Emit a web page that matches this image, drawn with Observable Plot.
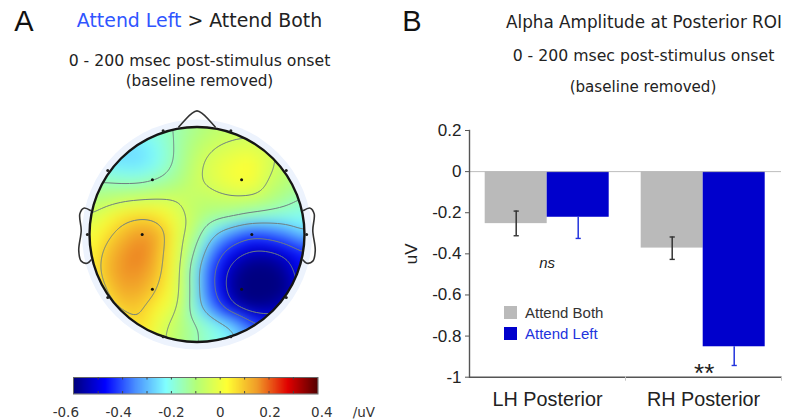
<!DOCTYPE html>
<html><head><meta charset="utf-8">
<script src="https://cdn.jsdelivr.net/npm/d3@7"></script>
<script src="https://cdn.jsdelivr.net/npm/@observablehq/plot@0.6"></script>
<style>
html,body{margin:0;padding:0;background:#fff}
#page{position:relative;width:795px;height:419px;overflow:hidden}
#page svg{position:absolute;left:0;top:0}
.t{position:absolute;white-space:nowrap;line-height:1;transform:translate(-50%,-50%);color:#222}
.l{font-family:"DejaVu Sans",sans-serif}
.h{font-family:"Liberation Sans",Arial,sans-serif}
.sw{position:absolute;width:13px;height:13px}
</style></head><body><div id="page"></div>
<script>
// ---- Panel B data
const regions = ["LH Posterior", "RH Posterior"];
const conditions = ["Attend Both", "Attend Left"];
const attendBoth = [-0.253, -0.372];
const attendLeft = [-0.222, -0.852];
const bothErrTop = [-0.192, -0.318];
const bothErrBottom = [-0.312, -0.427];
const leftErrTop = [-0.222, -0.852];
const leftErrBottom = [-0.325, -0.943];
const yTicks = [0.2, 0, -0.2, -0.4, -0.6, -0.8, -1];
const barColors = ["#bababa", "#0000cc"];
const whiskerColors = ["#333333", "#2233dd"];

// ---- Panel A data: scalp field sampled every 1/6 of the head radius, top row first
const gridAxis = [-1,-5/6,-4/6,-3/6,-2/6,-1/6,0,1/6,2/6,3/6,4/6,5/6,1];
const field = [
 [-.13,-.16,-.18,-.18,-.17,-.15,-.12,-.09,-.08,-.08,-.08,-.09,-.11],
 [-.20,-.24,-.265,-.255,-.20,-.14,-.09,-.055,-.04,-.03,-.04,-.06,-.09],
 [-.23,-.255,-.265,-.26,-.21,-.14,-.06,-.02,.005,.03,-.03,-.08,-.10],
 [-.17,-.165,-.18,-.18,-.155,-.12,-.055,-.02,.015,.03,-.06,-.09,-.12],
 [-.10,-.09,-.07,-.06,-.055,-.06,-.08,-.07,-.055,-.06,-.09,-.13,-.17],
 [-.05,.013,.065,.08,.05,-.03,-.08,-.12,-.14,-.18,-.20,-.21,-.22],
 [0,.065,.12,.155,.12,-.02,-.12,-.27,-.357,-.42,-.40,-.357,-.27],
 [.026,.104,.156,.175,.098,-.02,-.18,-.386,-.49,-.535,-.535,-.50,-.44],
 [.026,.117,.162,.156,.09,-.03,-.25,-.449,-.56,-.63,-.63,-.56,-.449],
 [0,.09,.143,.13,.065,-.035,-.24,-.449,-.58,-.67,-.67,-.60,-.47],
 [-.02,.052,.104,.085,.026,-.045,-.24,-.386,-.53,-.60,-.58,-.53,-.43],
 [-.03,0,.04,.08,-.03,-.09,-.15,-.21,-.27,-.40,-.47,-.45,-.36],
 [-.02,-.02,0,.026,-.04,-.10,-.16,-.20,-.24,-.31,-.36,-.34,-.27]
];
const contourLevels = [-.52,-.43,-.27,-.16,-.05,.078];
const innerElectrodes = [[-.415,.51],[.415,.51],[-.51,0],[.51,0],[-.415,-.51],[.415,-.51]];
const rimElectrodes = [[-.315,.965],[.315,.965],[-.83,.595],[.83,.595],[-1.02,0],[1.02,0],[-.83,-.585],[.83,-.585],[-.315,-.95],[.315,-.95]];
const nose = [[-.17,1.0],[-.05,1.125],[0,1.15],[.05,1.125],[.17,1.0]];
const earLeft = [[-.991,.223],[-1.053,.245],[-1.09,.192],[-1.077,.037],[-1.10,-.149],[-1.077,-.248],[-1.021,-.267],[-.984,-.235]];
const earRight = earLeft.map(([u,v]) => [-u,v]);

// ---- Colour bar
const colorDomain = [-.6,-.475,-.35,-.225,-.1,.025,.15,.275,.4];
const colorRange = ["#000080","#0000ff","#4a90ff","#80ffff","#b4ff78","#ffff33","#f09a28","#e00000","#500000"];
const barSteps = d3.range(-.6,.4,.005);
const barTicks = [-.5,-.4,-.3,-.2,-.1,0,.1,.2,.3];
const barLabels = [[-.6,"-0.6",-8],[-.4,"-0.4",-4],[-.2,"-0.2",0],[0,"0",0],[.2,"0.2",1],[.4,"0.4",4]];
const colorScale = {type:"linear",domain:colorDomain,range:colorRange,interpolate:"rgb",clamp:true};

const page = document.getElementById("page");
const W = 795, H = 419;
const base = {width:W,height:H,margin:0,style:{background:"transparent"}};

// Panel A: head
const samples = field.flatMap((row,r) => row.map((value,c) => ({u:gridAxis[c],v:-gridAxis[r],value})));
const fieldOpts = {x:"u",y:"v",x1:-1,x2:1,y1:-1,y2:1,interpolate:"barycentric",pixelSize:1,blur:7,className:"topo"};
const head = Plot.plot({
  ...base,
  x:{domain:[-1,1],range:[89,304],axis:null},
  y:{domain:[-1,1],range:[341.5,126.5],axis:null},
  color:colorScale,
  marks:[
    Plot.dot([[0,0]],{x:d=>d[0],y:d=>d[1],r:115,fill:"#edf3fd",stroke:"none"}),
    Plot.raster(samples,{...fieldOpts,fill:"value"}),
    Plot.contour(samples,{...fieldOpts,value:"value",thresholds:contourLevels,stroke:"#6f7f80",strokeWidth:1,fill:"none"}),
    Plot.dot([[0,0]],{x:d=>d[0],y:d=>d[1],r:107.5,fill:"none",stroke:"#151515",strokeWidth:2.4}),
    Plot.line(nose,{x:d=>d[0],y:d=>d[1],curve:"catmull-rom",stroke:"#333",strokeWidth:1.6}),
    Plot.line(earLeft,{x:d=>d[0],y:d=>d[1],curve:"catmull-rom",stroke:"#333",strokeWidth:1.6}),
    Plot.line(earRight,{x:d=>d[0],y:d=>d[1],curve:"catmull-rom",stroke:"#333",strokeWidth:1.6}),
    Plot.dot(innerElectrodes,{x:d=>d[0],y:d=>d[1],r:1.5,fill:"#111"}),
    Plot.dot(rimElectrodes,{x:d=>d[0],y:d=>d[1],r:1.5,fill:"#222"})
  ]
});
const sx = head.scale("x"), sy = head.scale("y");
const sel = d3.select(head);
sel.insert("defs",":first-child").append("clipPath").attr("id","headclip").append("circle")
  .attr("cx",sx.apply(0)).attr("cy",sy.apply(0)).attr("r",107.5);
sel.selectAll(".topo").attr("clip-path","url(#headclip)");
page.appendChild(head);

// Colour bar
const cbar = Plot.plot({
  ...base,
  x:{domain:[-.6,.4],range:[73.3,317.3],axis:null},
  y:{domain:[0,1],range:[393.3,377.3],axis:null},
  color:colorScale,
  marks:[
    Plot.raster(barSteps,{width:barSteps.length,height:1,x1:-.6,x2:.4,y1:0,y2:1,imageRendering:"auto"}),
    Plot.frame({stroke:"#666",strokeWidth:1,insetLeft:73,insetRight:W-317.5,insetTop:377,insetBottom:H-393.5}),
    Plot.ruleX(barTicks,{x:d=>d,y1:0,y2:.14,stroke:"#444"}),
    Plot.ruleX(barTicks,{x:d=>d,y1:.86,y2:1,stroke:"#444"}),
    ...barLabels.map(([v,s,dx]) => Plot.text([v],{x:d=>d,y:0,text:()=>s,dx,dy:19,fontSize:13.5,fontFamily:"DejaVu Sans",fill:"#333"})),
    Plot.text(["/uV"],{x:()=>.4,y:0,text:d=>d,dx:46,dy:19,fontSize:13.5,fontFamily:"DejaVu Sans",fill:"#333"})
  ]
});
page.appendChild(cbar);

// Panel B: bars
const rows = regions.flatMap((region,i) => [
  {region,cond:conditions[0],value:attendBoth[i],top:bothErrTop[i],bottom:bothErrBottom[i]},
  {region,cond:conditions[1],value:attendLeft[i],top:leftErrTop[i],bottom:leftErrBottom[i]}
]);
const catColor = d => whiskerColors[conditions.indexOf(d.cond)];
const capStyle = {fx:"region",x:"cond",stroke:catColor,strokeWidth:1.4,marker:null};
const capMark = (data,channel) => Plot.dot(data,{fx:"region",x:"cond",y:channel,stroke:catColor,strokeWidth:1.4,fill:"none",r:2.6,
  symbol:{draw(ctx,size){const r=Math.sqrt(size/Math.PI);ctx.moveTo(-r,0);ctx.lineTo(r,0);}}});
const bars = Plot.plot({
  width:W,height:H,marginLeft:468.3,marginRight:13.3,marginTop:130,marginBottom:42.3,
  style:{background:"transparent",fontFamily:"Liberation Sans"},
  fx:{domain:regions,padding:0,label:null},
  x:{domain:conditions,paddingInner:0,paddingOuter:.245,axis:null},
  y:{domain:[-1,.2],label:"uV"},
  color:{domain:conditions,range:barColors},
  marks:[
    Plot.barY(rows,{fx:"region",x:"cond",y:"value",fill:"cond"}),
    Plot.ruleY([0],{stroke:"#bdbdbd",strokeWidth:1}),
    Plot.ruleY([-1],{stroke:"#555",strokeWidth:1.4}),
    Plot.frame({anchor:"left",fx:[regions[0]],stroke:"#555",strokeWidth:1.4}),
    Plot.frame({anchor:"right",insetTop:246,insetBottom:-3,stroke:"#c4c4c4",strokeWidth:1}),
    Plot.ruleX(rows,{fx:"region",x:"cond",y1:"top",y2:"bottom",stroke:catColor,strokeWidth:1.5}),
    capMark(rows.filter(d=>d.top!==d.value),"top"),
    capMark(rows,"bottom"),
    Plot.axisY({ticks:yTicks,tickFormat:d=>String(d),tickSize:4,tickPadding:4,fontSize:17,fill:"#222",stroke:"#555",
      label:"uV",labelAnchor:"center",labelArrow:"none",labelOffset:65}),
    Plot.axisFx({anchor:"bottom",tickSize:0,tickPadding:15,fontSize:19.8,fill:"#222",label:null}),
    Plot.text([regions[0]],{fx:d=>d,x:()=>conditions[0],y:()=>-.445,text:()=>"ns",dx:31,fontStyle:"italic",fontSize:15,fill:"#222"}),
    Plot.text([regions[1]],{fx:d=>d,x:()=>conditions[1],y:()=>-.985,text:()=>"**",dx:-30,fontSize:26,fill:"#222"})
  ]
});
page.appendChild(bars);

// Titles and legend text
const texts = [
  ["A",24,21,29,"h","#111"],
  [null,199.5,20,18.9,"l"],
  ["0 - 200 msec post-stimulus onset",199.5,61,15.7,"l"],
  ["(baseline removed)",199.5,82,15.2,"l"],
  ["B",412,21,29,"h","#111"],
  ["Alpha Amplitude at Posterior ROI",644,22,16.8,"l"],
  ["0 - 200 msec post-stimulus onset",643.5,56,15.7,"l"],
  ["(baseline removed)",643,88,15.1,"l"]
];
for (const [s,x,y,fs,cls,c] of texts) {
  const e = document.createElement("div");
  e.className = "t "+cls;
  e.style.cssText += `left:${x}px;top:${y}px;font-size:${fs}px;`+(c?`color:${c};`:"");
  if (s===null) e.innerHTML = '<span style="color:#2f55ff">Attend Left</span> &gt; Attend Both';
  else e.textContent = s;
  page.appendChild(e);
}
const legendRows = [[conditions[0],306,"#333"],[conditions[1],326.5,"#2233dd"]];
legendRows.forEach(([s,y,c],i) => {
  const sw = document.createElement("div");
  sw.className="sw"; sw.style.cssText+=`left:504px;top:${y}px;background:${barColors[i]}`;
  page.appendChild(sw);
  const e = document.createElement("div");
  e.className="h"; e.textContent=s;
  e.style.cssText=`position:absolute;left:525px;top:${y-1}px;font-size:15px;line-height:15px;color:${c};white-space:nowrap`;
  page.appendChild(e);
});
</script></body></html>
